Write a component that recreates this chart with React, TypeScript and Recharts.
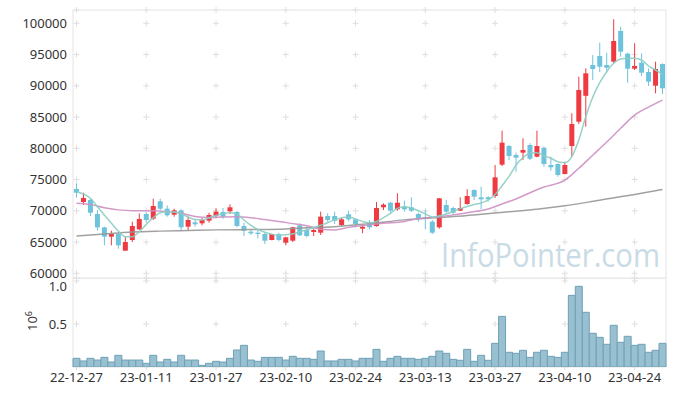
import {
  ComposedChart, Bar, Line, XAxis, YAxis, CartesianGrid, ReferenceArea,
} from 'recharts'

const DATES = [
  '22-12-27', '22-12-28', '22-12-29', '23-01-02', '23-01-03', '23-01-04', '23-01-05', '23-01-06', '23-01-09', '23-01-10',
  '23-01-11', '23-01-12', '23-01-13', '23-01-16', '23-01-17', '23-01-18', '23-01-19', '23-01-20', '23-01-25', '23-01-26',
  '23-01-27', '23-01-30', '23-01-31', '23-02-01', '23-02-02', '23-02-03', '23-02-06', '23-02-07', '23-02-08', '23-02-09',
  '23-02-10', '23-02-13', '23-02-14', '23-02-15', '23-02-16', '23-02-17', '23-02-20', '23-02-21', '23-02-22', '23-02-23',
  '23-02-24', '23-02-27', '23-02-28', '23-03-02', '23-03-03', '23-03-06', '23-03-07', '23-03-08', '23-03-09', '23-03-10',
  '23-03-13', '23-03-14', '23-03-15', '23-03-16', '23-03-17', '23-03-20', '23-03-21', '23-03-22', '23-03-23', '23-03-24',
  '23-03-27', '23-03-28', '23-03-29', '23-03-30', '23-03-31', '23-04-03', '23-04-04', '23-04-05', '23-04-06', '23-04-07',
  '23-04-10', '23-04-11', '23-04-12', '23-04-13', '23-04-14', '23-04-17', '23-04-18', '23-04-19', '23-04-20', '23-04-21',
  '23-04-24', '23-04-25', '23-04-26', '23-04-27', '23-04-28',
]

const TICKS = ['22-12-27', '23-01-11', '23-01-27', '23-02-10', '23-02-24', '23-03-13', '23-03-27', '23-04-10', '23-04-24']

const OPEN = [
  73490, 71410, 71730, 69490, 67350, 65860, 66290, 63620, 65330, 67030,
  69490, 68740, 71520, 70340, 69380, 70080, 67460, 68160, 68000, 68420,
  69170, 69810, 69920, 69810, 67570, 66660, 66500, 66290, 65330, 66290,
  64900, 65220, 67680, 66930, 66610, 66500, 69170, 69170, 67730, 69440,
  68640, 67140, 68100, 67570, 70560, 71300, 70240, 70660, 70560, 69490,
  68960, 68260, 67360, 70930, 70450, 70020, 71090, 73330, 72160, 72160,
  72370, 77380, 80370, 78930, 79300, 80530, 78660, 80100, 77330, 77490,
  75890, 80370, 84260, 88400, 93330, 94770, 93330, 93860, 98770, 95140,
  92740, 93700, 92210, 90020, 93490,
]
const HIGH = [
  74400, 72900, 71940, 70130, 67460, 66820, 66660, 65860, 68260, 69600,
  69760, 71940, 71940, 70880, 70340, 70240, 69060, 68640, 68900, 69700,
  70400, 70450, 71040, 69970, 68100, 66930, 67040, 66500, 66350, 66500,
  65860, 67460, 68000, 67460, 67200, 69860, 69600, 69860, 68850, 70030,
  68800, 67680, 68530, 71410, 71200, 71410, 72800, 71620, 72160, 69700,
  70130, 68530, 72050, 71730, 70660, 72160, 73440, 73440, 73860, 72370,
  77330, 82820, 80530, 79300, 81600, 80800, 82820, 80260, 78660, 77600,
  77860, 85600, 91460, 92800, 94930, 96900, 95300, 100640, 99460, 95300,
  96800, 95200, 92800, 93860, 93600,
]
const LOW = [
  72100, 70980, 69170, 66820, 64480, 64480, 63940, 63620, 65010, 66930,
  68100, 68530, 70130, 69060, 69060, 66820, 66820, 67460, 67680, 68100,
  68800, 68740, 69490, 67360, 65970, 66130, 65600, 64690, 65280, 65120,
  64480, 65010, 65970, 65760, 65970, 66130, 68260, 67890, 67570, 68320,
  67360, 66400, 67040, 67460, 70130, 69600, 70020, 69860, 69810, 68260,
  67040, 66290, 67140, 69600, 69330, 69980, 70980, 71730, 70240, 71460,
  72050, 77170, 78130, 76260, 78130, 78130, 78560, 77060, 76420, 75460,
  75850, 78660, 83890, 83460, 90930, 92210, 92100, 93600, 94660, 90500,
  92530, 91570, 89970, 88800, 88690,
]
const CLOSE = [
  72900, 72050, 69700, 67350, 65860, 66290, 64480, 65010, 67570, 68690,
  68530, 70770, 70340, 69280, 70080, 67360, 68530, 67840, 68530, 69330,
  69860, 69060, 70560, 67570, 66820, 66400, 66290, 65220, 66290, 65330,
  65760, 67360, 66080, 65970, 66930, 69060, 68530, 68420, 68640, 68640,
  67890, 67460, 67360, 70450, 70980, 70020, 71300, 70240, 70020, 68800,
  68740, 66500, 72000, 69860, 69700, 70450, 72370, 72260, 71840, 71840,
  75360, 80900, 78770, 78500, 79730, 78340, 80370, 77490, 76960, 75730,
  77330, 83890, 89330, 92000, 92690, 93060, 92900, 97170, 95460, 92740,
  93170, 92100, 90660, 92690, 89600,
]

// volume in millions of shares
const VOLUME = [
  0.101, 0.070, 0.101, 0.081, 0.112, 0.058, 0.136, 0.081, 0.081, 0.081,
  0.043, 0.136, 0.058, 0.089, 0.058, 0.136, 0.081, 0.081, 0.019, 0.043,
  0.066, 0.058, 0.101, 0.198, 0.252, 0.081, 0.066, 0.112, 0.112, 0.112,
  0.081, 0.124, 0.101, 0.101, 0.089, 0.186, 0.070, 0.070, 0.089, 0.089,
  0.070, 0.101, 0.101, 0.205, 0.066, 0.101, 0.124, 0.101, 0.101, 0.089,
  0.101, 0.124, 0.186, 0.159, 0.089, 0.078, 0.205, 0.066, 0.136, 0.078,
  0.275, 0.589, 0.171, 0.159, 0.194, 0.112, 0.171, 0.194, 0.124, 0.112,
  0.171, 0.833, 0.938, 0.636, 0.392, 0.345, 0.264, 0.485, 0.287, 0.357,
  0.252, 0.264, 0.171, 0.194, 0.275,
]

const MA_SHORT = [
  73060, 72690, 72000, 70660, 69330, 68000, 66770, 65860, 65860, 66660,
  67830, 68900, 69700, 69860, 69810, 69550, 69000, 68600, 68550, 68850,
  69250, 69550, 69700, 69500, 68530, 67680, 67030, 66560, 66230, 66130,
  66180, 66290, 66660, 66930, 67300, 67700, 68100, 68550, 68900, 69000,
  68700, 68300, 68100, 68300, 68900, 69600, 70400, 70650, 70450, 70000,
  69500, 69000, 69200, 69500, 69900, 70350, 70700, 71000, 71250, 71700,
  72600, 74000, 75500, 77300, 78500, 79200, 79300, 78820, 78400, 77860,
  77700, 78660, 81330, 85060, 88160, 90500, 92260, 93600, 94290, 94400,
  94400, 94130, 93170, 92530, 91830,
]

// [candle index, value] read at key points of the smoother averages
const MA_MID: [number, number][] = [
  [0, 71200], [2, 71000], [4, 70500], [6, 70150], [8, 70020], [11, 70020], [13, 69870],
  [15, 69600], [17, 69100], [19, 68950], [21, 69020], [23, 69050], [25, 68900], [27, 68600],
  [29, 68300], [31, 67950], [33, 67600], [35, 67050], [37, 66950], [39, 67350], [42, 67750],
  [44, 68000], [47, 68300], [49, 68750], [51, 68950], [54, 69350], [56, 69700], [59, 70300],
  [61, 71100], [63, 71900], [65, 72900], [67, 73800], [70, 74900], [72, 76800], [74, 78900],
  [76, 81000], [78, 83200], [80, 85300], [82, 86600], [84, 87700],
]
const MA_LONG: [number, number][] = [
  [0, 65970], [4, 66300], [8, 66600], [12, 66750], [16, 66850], [20, 66950], [25, 67000],
  [30, 67100], [33, 67300], [37, 67450], [42, 67950], [47, 68550], [50, 68800], [54, 69080],
  [58, 69450], [62, 69850], [66, 70250], [70, 70800], [75, 71700], [80, 72600], [84, 73400],
]

const UP = '#ee3a40'
const DOWN = '#6ec3dc'
const GRID = '#dedede'
const TEXT = '#333'
const FONT = '"Noto Sans", sans-serif'

const Y_MIN = 59250
const Y_MAX = 102130
const VOL_MAX = 1.035

const rows = DATES.map((date, i) => ({
  date,
  open: OPEN[i],
  high: HIGH[i],
  low: LOW[i],
  close: CLOSE[i],
  range: [LOW[i], HIGH[i]],
  vol: VOLUME[i],
  maShort: MA_SHORT[i],
  maMid: null as number | null,
  maLong: null as number | null,
}))
MA_MID.forEach(([i, v]) => { rows[i].maMid = v })
MA_LONG.forEach(([i, v]) => { rows[i].maLong = v })

const tickIdx = TICKS.map((t) => DATES.indexOf(t))

// grid is drawn as small crosses at tick intersections
function crosses(p: any) {
  const band = (p.x2 - p.x1) / DATES.length
  return (
    <g key={p.key}>
      {tickIdx.map((i) => {
        const cx = p.x1 + (i + 0.5) * band
        return (
          <path
            key={i}
            d={`M${cx - 3},${p.y1}H${cx + 3}M${cx},${p.y1 - 3}V${p.y1 + 3}`}
            stroke={GRID}
            strokeWidth={1}
            fill="none"
          />
        )
      })}
    </g>
  )
}

function Candle(props: any) {
  const { x, y, width, height, payload } = props
  if (x == null || payload == null) return null
  const { open, close, high, low } = payload
  const color = close >= open ? UP : DOWN
  const top = Math.min(y, y + height)
  const h = Math.abs(height)
  const k = h / (high - low || 1)
  const py = (v: number) => top + (high - v) * k
  const cx = x + width / 2
  const bTop = py(Math.max(open, close))
  const bBot = py(Math.min(open, close))
  return (
    <g>
      <line x1={cx} x2={cx} y1={top} y2={top + h} stroke={color} strokeWidth={1} />
      <rect x={cx - 2.5} y={bTop} width={5} height={Math.max(1, bBot - bTop)} fill={color} />
    </g>
  )
}

const tickStyle = { fontSize: 13, fill: TEXT, fontFamily: FONT }

export default function App() {
  return (
    <div style={{ position: 'absolute', left: 0, top: 0, width: 677, height: 396, background: '#fff', fontFamily: FONT }}>
      <svg width={677} height={396} style={{ position: 'absolute', left: 0, top: 0 }}>
        <text
          x={441}
          y={267}
          fontSize={33}
          fontFamily='"Open Sans", sans-serif'
          fill="#c9dbe5"
          textLength={219}
          lengthAdjust="spacingAndGlyphs"
        >
          InfoPointer.com
        </text>
        <text transform="translate(37,331) rotate(-90)" fontSize={13} fill={TEXT} fontFamily={FONT}>
          10<tspan dy={-5} fontSize={9}>6</tspan>
        </text>
      </svg>

      <div style={{ position: 'absolute', left: 0, top: 0 }}>
        <ComposedChart width={677} height={292} data={rows} barCategoryGap={0}
          margin={{ top: 10, right: 11, bottom: 14, left: 0 }}>
          <CartesianGrid vertical={false} horizontal={crosses} />
          <XAxis dataKey="date" hide />
          <YAxis
            domain={[Y_MIN, Y_MAX]}
            ticks={[60000, 65000, 70000, 75000, 80000, 85000, 90000, 95000, 100000]}
            allowDataOverflow
            width={73}
            tickSize={0}
            tickMargin={6}
            axisLine={false}
            tickLine={false}
            tick={tickStyle}
          />
          <ReferenceArea y1={Y_MIN} y2={Y_MAX} fill="none" stroke="#e4e4e4" ifOverflow="visible" />
          <Bar dataKey="range" shape={<Candle />} isAnimationActive={false} />
          <Line dataKey="maLong" type="monotone" stroke="#979797" strokeWidth={1.5} strokeOpacity={0.9}
            dot={false} connectNulls isAnimationActive={false} />
          <Line dataKey="maMid" type="monotone" stroke="#cd8fc3" strokeWidth={1.5} strokeOpacity={0.9}
            dot={false} connectNulls isAnimationActive={false} />
          <Line dataKey="maShort" type="monotone" stroke="#8ccdc3" strokeWidth={1.5} strokeOpacity={0.9}
            dot={false} isAnimationActive={false} />
        </ComposedChart>
      </div>

      <div style={{ position: 'absolute', left: 0, top: 278 }}>
        <ComposedChart width={677} height={118} data={rows} barCategoryGap={0}
          margin={{ top: 0, right: 11, bottom: 0, left: 0 }}>
          <CartesianGrid vertical={false} horizontal={crosses} />
          <XAxis
            dataKey="date"
            ticks={TICKS}
            interval={0}
            height={29}
            tickSize={0}
            tickMargin={6}
            axisLine={false}
            tickLine={false}
            tick={tickStyle}
          />
          <YAxis
            domain={[0, VOL_MAX]}
            ticks={[0.5, 1.0]}
            allowDataOverflow
            tickFormatter={(v: number) => v.toFixed(1)}
            width={73}
            tickSize={0}
            tickMargin={6}
            axisLine={false}
            tickLine={false}
            tick={tickStyle}
          />
          <ReferenceArea y1={0} y2={VOL_MAX} fill="none" stroke="#e4e4e4" ifOverflow="visible" />
          <Bar dataKey="vol" fill="#98c0d0" stroke="#6fa1b7" strokeWidth={1} isAnimationActive={false} />
        </ComposedChart>
      </div>
    </div>
  )
}
